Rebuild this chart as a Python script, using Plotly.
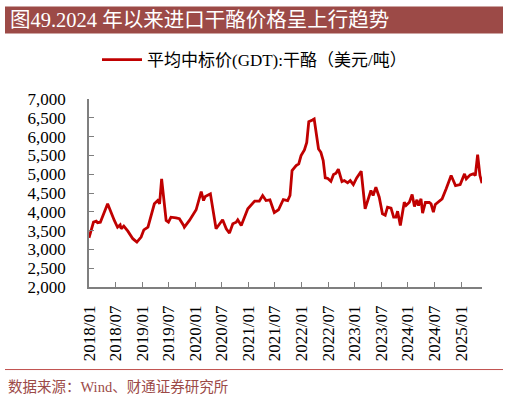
import plotly.graph_objects as go

# GDT average winning price, cheese (USD/ton)
dates = [
    "2018-01-01", "2018-02-01", "2018-02-20", "2018-03-01", "2018-03-20", "2018-05-09",
    "2018-06-24", "2018-07-16", "2018-08-03", "2018-08-10", "2018-08-28", "2018-09-25",
    "2018-10-29", "2018-11-26", "2018-12-25", "2019-01-13", "2019-02-10", "2019-03-26",
    "2019-04-18", "2019-05-01", "2019-05-15", "2019-05-29", "2019-06-15", "2019-07-01",
    "2019-07-18", "2019-08-22", "2019-09-14", "2019-10-13", "2019-10-18", "2019-11-22",
    "2020-01-07", "2020-02-11", "2020-02-27", "2020-03-10", "2020-03-26", "2020-04-14",
    "2020-05-23", "2020-07-07", "2020-08-01", "2020-08-23", "2020-09-15", "2020-10-08",
    "2020-10-19", "2020-11-12", "2020-12-27", "2021-02-12", "2021-03-16", "2021-04-08",
    "2021-05-01", "2021-05-28", "2021-06-27", "2021-07-26", "2021-08-28", "2021-09-27",
    "2021-10-13", "2021-10-27", "2021-11-24", "2021-12-12", "2021-12-28", "2022-01-20",
    "2022-02-05", "2022-02-19", "2022-03-16", "2022-03-28", "2022-04-27", "2022-05-13",
    "2022-05-29", "2022-06-12", "2022-06-28", "2022-07-21", "2022-08-08", "2022-08-25",
    "2022-09-10", "2022-10-05", "2022-10-21", "2022-11-13", "2022-12-01", "2022-12-22",
    "2023-01-14", "2023-02-14", "2023-03-13", "2023-04-05", "2023-04-22", "2023-05-07",
    "2023-05-26", "2023-06-18", "2023-07-10", "2023-07-29", "2023-08-14", "2023-09-07",
    "2023-09-25", "2023-10-11", "2023-10-22", "2023-11-10", "2023-12-07", "2023-12-19",
    "2024-01-11", "2024-01-30", "2024-02-15", "2024-03-03", "2024-03-14", "2024-03-31",
    "2024-04-11", "2024-04-30", "2024-05-27", "2024-06-08", "2024-06-24", "2024-07-07",
    "2024-08-04", "2024-08-23", "2024-09-20", "2024-10-24", "2024-11-23", "2024-12-25",
    "2025-01-24", "2025-02-05", "2025-03-04", "2025-03-25", "2025-04-08", "2025-04-24",
    "2025-05-10", "2025-05-24",
]
cheese_price = [
    3310, 3725, 3750, 3710, 3725, 4213,
    3770, 3590, 3655, 3550, 3620, 3486,
    3285, 3195, 3327, 3520, 3590, 4213,
    4300, 4213, 4877, 4300, 3770, 3725,
    3858, 3840, 3815, 3637, 3592, 3770,
    4054, 4540, 4300, 4407, 4434, 4479,
    3550, 3789, 3550, 3433, 3683, 3725,
    3789, 3637, 4080, 4283, 4283, 4434,
    4300, 4320, 3980, 4054, 4327, 4300,
    4434, 5097, 5230, 5275, 5495, 5646,
    5848, 6398, 6443, 6470, 5673, 5583,
    5363, 4903, 4893, 4813, 4991, 5025,
    5132, 4805, 4832, 4771, 4832, 4726,
    4903, 5079, 4080, 4346, 4566, 4434,
    4654, 4389, 3948, 3911, 4123, 4097,
    3858, 3858, 4017, 3637, 4256, 4168,
    4256, 4460, 4142, 4320, 4168, 4346,
    3964, 4248, 4248, 4213, 3990, 4195,
    4283, 4346, 4611, 4965, 4699, 4726,
    5010, 4877, 4983, 5010, 4965, 5522,
    4965, 4760,
]
series_name = "平均中标价(GDT):干酪（美元/吨）"
title_text = "图49.2024 年以来进口干酪价格呈上行趋势"
source_text = "数据来源：Wind、财通证券研究所"

# pixel layout of the 509x400 picture
W_IMG, H_IMG = 509, 400
L, R, T, B = 89, 482, 98, 287


def px_x(x):
    return (x - L) / (R - L)


def px_y(y):
    return (B - y) / (B - T)


SERIF = "Liberation Serif, Noto Sans CJK SC, serif"

fig = go.Figure()
fig.add_trace(go.Scatter(
    x=dates, y=cheese_price, mode="lines", name=series_name,
    line=dict(color="#C00000", width=2.8),
))

fig.update_layout(
    width=W_IMG, height=H_IMG,
    margin=dict(l=L, r=W_IMG - R, t=T, b=H_IMG - B),
    paper_bgcolor="white", plot_bgcolor="white",
    font=dict(family=SERIF, color="black", size=16),
    showlegend=True,
    legend=dict(
        orientation="h", xref="container", yref="container",
        x=0.5, xanchor="center", y=1 - 60 / H_IMG, yanchor="middle",
        font=dict(size=17, family=SERIF), itemwidth=40,
    ),
    xaxis=dict(
        type="date", range=["2018-01-01", "2025-05-24"],
        tick0="2018-01-01", dtick="M6", tickformat="%Y/%m",
        tickangle=-90, ticks="inside", ticklen=5, tickcolor="#7f7f7f",
        showline=True, linecolor="#7f7f7f", linewidth=1.5,
        showgrid=False, zeroline=False, tickfont=dict(size=17),
        ticklabelstandoff=10,
    ),
    yaxis=dict(
        range=[2000, 7000], dtick=500, tickformat=",",
        ticks="inside", ticklen=5, tickcolor="#7f7f7f",
        showline=True, linecolor="#7f7f7f", linewidth=1.5,
        showgrid=False, zeroline=False, tickfont=dict(size=17),
        ticklabelstandoff=18,
    ),
    shapes=[
        # title bar
        dict(type="rect", xref="paper", yref="paper",
             x0=px_x(5), x1=px_x(503), y0=px_y(32), y1=px_y(5),
             fillcolor="#9C4A47", line=dict(width=0), layer="below"),
        # footer rule
        dict(type="line", xref="paper", yref="paper",
             x0=px_x(5), x1=px_x(503), y0=px_y(370), y1=px_y(370),
             line=dict(color="#C0504D", width=1)),
    ],
    annotations=[
        dict(text=title_text, xref="paper", yref="paper",
             x=px_x(8), y=px_y(18.5), xanchor="left", yanchor="middle",
             showarrow=False, font=dict(size=20.5, color="white", family=SERIF)),
        dict(text=source_text, xref="paper", yref="paper",
             x=px_x(6), y=px_y(388), xanchor="left", yanchor="middle",
             showarrow=False, font=dict(size=14.5, color="#9C4A47", family=SERIF)),
    ],
)

# the page's default body margin would push the figure 8px off its corner
fig.write_html("out.html", config={"displayModeBar": False},
               post_script="document.body.style.margin='0';")
